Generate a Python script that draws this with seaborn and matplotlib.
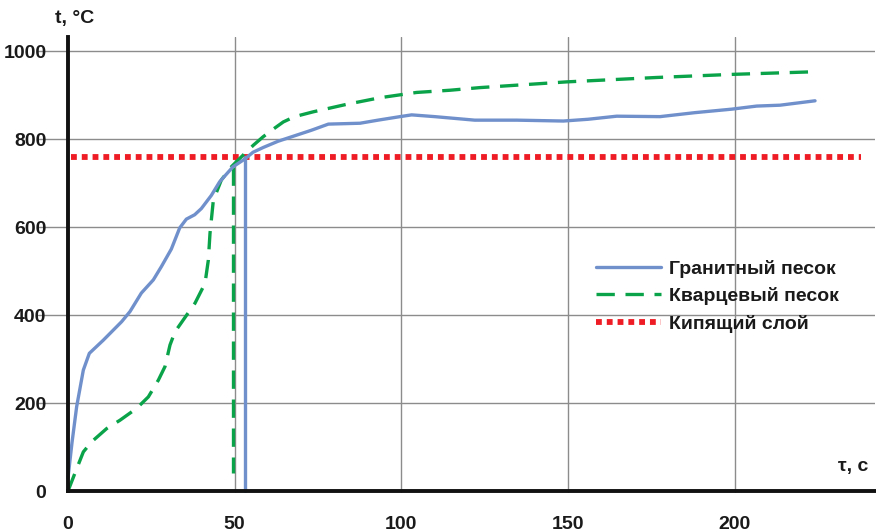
import matplotlib
matplotlib.use("Agg")
import matplotlib.pyplot as plt
from matplotlib import font_manager
from matplotlib.ticker import FixedLocator
import seaborn as sns
import pandas as pd

# ---------------- data ----------------
granite_t = [0, 1.2, 2.6, 4.6, 6.4, 10.6, 16.1, 18.6, 22, 25.6, 28, 31, 33.5, 35.5, 38, 40,
             43, 45.5, 49.5, 53.1, 55.5, 58.6, 63, 68.6, 73, 78.1, 87.6, 93, 99.6, 103.1,
             110, 116, 122, 134.6, 148.6, 156, 164.6, 177.6, 188, 199.1, 206.6, 213.6, 224.1]
granite_T = [30, 110, 192, 275, 313, 343, 385, 408, 450, 480, 510, 550, 598, 618, 628, 642,
             672, 703, 737, 755, 770, 781, 795, 809, 820, 834, 836, 843, 851, 855,
             851, 847, 843, 843, 841, 845, 852, 851, 860, 868, 875, 877, 887]

quartz_t = [0, 2.1, 4.6, 7.1, 11.6, 15.6, 20.6, 24.1, 27.1, 29.1, 30.6, 32.1, 35.6, 38.1,
            41.1, 42.1, 42.6, 43.6, 46, 49, 53, 55.6, 58.5, 61.1, 64.6, 68, 73.6, 83.6,
            93.6, 104.6, 114.6, 123.6, 149.6, 176.6, 199.1, 224]
quartz_T = [0, 41, 89, 112, 142, 161, 188, 214, 252, 283, 332, 362, 400, 427,
            472, 525, 586, 661, 707, 737, 767, 786, 805, 820, 839, 851, 862, 879,
            894, 906, 911, 917, 930, 940, 947, 953]

granite_drop_t = [53, 53]
granite_drop_T = [0, 760]
quartz_drop_t = [49.5, 49.5]
quartz_drop_T = [737, 40]

boil_t = [1, 238]
boil_T = [760, 760]

labels = ["Гранитный песок", "Кварцевый песок", "Кипящий слой"]
x_major = [0, 50, 100, 150, 200]
x_minor = [20, 40, 60, 80, 120, 140, 160, 180, 220]
y_major = [0, 200, 400, 600, 800, 1000]
y_minor = [50, 100, 150, 250, 300, 350, 450, 500, 550, 650, 700, 750, 850, 900, 950]

# ---------------- style ----------------
sns.set_theme(style="white")
names = {f.name for f in font_manager.fontManager.ttflist}
fam = ["Liberation Sans Narrow", "Liberation Sans", "DejaVu Sans"]
fam = [f for f in fam if f in names] + ["DejaVu Sans"]
plt.rcParams["font.family"] = fam

FS = 14
BLUE = "#7090CC"
GREEN = "#0AA34A"
RED = "#EE1C25"
GRID = "#8C8C8C"
INK = "#1a1a1a"

fig = plt.figure(figsize=(8.76, 5.32), dpi=100)
ax = fig.add_axes([38 / 876, 1 - 492.8 / 532, 836.7 / 876, 455.8 / 532])

ax.set_xlim(-9, 242)
ax.set_ylim(-4, 1032)

# grid
for v in x_major[1:]:
    ax.axvline(v, color=GRID, lw=1.0, zorder=0)
for v in y_major[1:]:
    ax.axhline(v, color=GRID, lw=1.0, zorder=0)

df_g = pd.DataFrame({"t": granite_t, "T": granite_T})
df_q = pd.DataFrame({"t": quartz_t, "T": quartz_T})

sns.lineplot(data=df_g, x="t", y="T", sort=False, estimator=None, ax=ax,
             color=BLUE, lw=2.4, label=labels[0], zorder=4)
sns.lineplot(data=df_q, x="t", y="T", sort=False, estimator=None, ax=ax,
             color=GREEN, lw=2.4, label=labels[1], zorder=3)
ax.lines[-1].set_dashes([5.5, 3.2])
ax.plot(boil_t, boil_T, color=RED, lw=4.2, linestyle=(0, (1.0, 0.85)),
        label=labels[2], zorder=2)

ax.plot(granite_drop_t, granite_drop_T, color=BLUE, lw=2.4, zorder=4)
ax.plot(quartz_drop_t, quartz_drop_T, color=GREEN, lw=2.4, dashes=[5.5, 3.2], zorder=3)

# spines
for s in ["top", "right"]:
    ax.spines[s].set_visible(False)
ax.spines["left"].set_position(("data", 0))
ax.spines["bottom"].set_position(("data", 0))
ax.spines["left"].set_bounds(0, 1032)
ax.spines["bottom"].set_bounds(0, 242)
for s in ["left", "bottom"]:
    ax.spines[s].set_linewidth(2.8)
    ax.spines[s].set_color("#111111")
    ax.spines[s].set_zorder(5)

ax.xaxis.set_major_locator(FixedLocator(x_major))
ax.xaxis.set_minor_locator(FixedLocator(x_minor))
ax.yaxis.set_major_locator(FixedLocator(y_major))
ax.yaxis.set_minor_locator(FixedLocator(y_minor))
ax.tick_params(axis="both", which="major", direction="inout", length=13, width=2.8,
               color="#111111", labelsize=FS)
ax.tick_params(axis="both", which="minor", direction="in", length=6, width=2.4,
               color="#111111")
ax.tick_params(axis="y", which="major", pad=9)
ax.tick_params(axis="x", which="major", pad=11.5)
for lab in ax.get_xticklabels() + ax.get_yticklabels():
    lab.set_fontweight("bold")
    lab.set_color(INK)

ax.set_xlabel("")
ax.set_ylabel("")

fig.text(55 / 876, 1 - 18 / 532, "t, °C", fontsize=FS, fontweight="bold",
         color=INK, ha="left", va="center")
fig.text(838 / 876, 1 - 467 / 532, "τ, c", fontsize=FS, fontweight="bold",
         color=INK, ha="left", va="center")

leg = ax.legend(loc="upper left", frameon=False, fontsize=FS, handlelength=3.35,
                handletextpad=0.45, labelspacing=0.5)
leg.set_bbox_to_anchor((578 / 876, 1 - 242 / 532), transform=fig.transFigure)
for t in leg.get_texts():
    t.set_fontweight("bold")
    t.set_color(INK)

fig.savefig("out.png", dpi=100)
